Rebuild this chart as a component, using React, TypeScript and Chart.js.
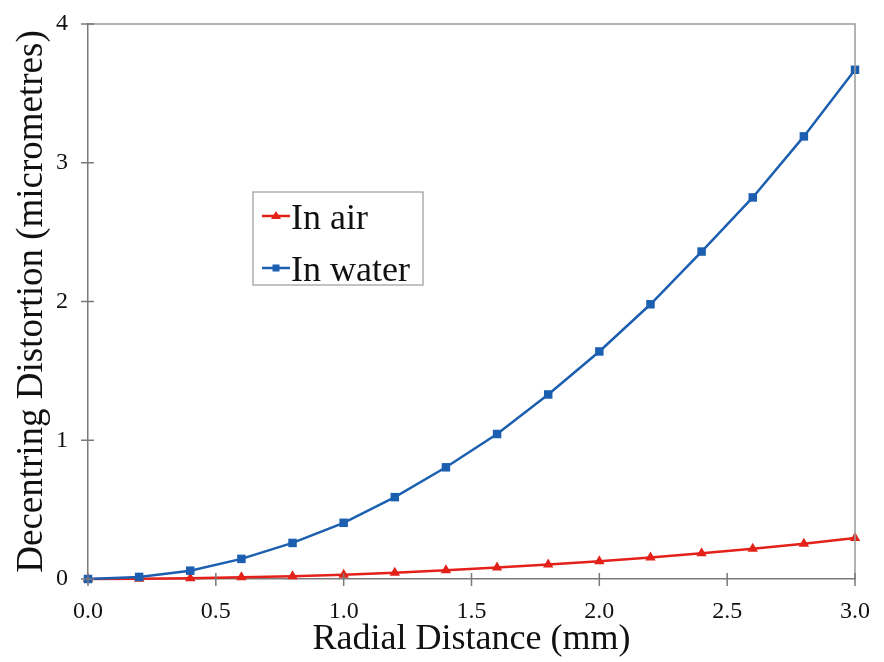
import React, { useEffect, useRef } from "react";
import { Chart, registerables } from "chart.js";

Chart.register(...registerables);

const radialDistance = [0, 0.2, 0.4, 0.6, 0.8, 1.0, 1.2, 1.4, 1.6, 1.8, 2.0, 2.2, 2.4, 2.6, 2.8, 3.0];
const inAir = [0, 0.002, 0.006, 0.012, 0.02, 0.03, 0.045, 0.063, 0.082, 0.104, 0.128, 0.155, 0.185, 0.218, 0.254, 0.295];
const inWater = [0, 0.015, 0.06, 0.145, 0.26, 0.405, 0.59, 0.805, 1.045, 1.33, 1.64, 1.98, 2.36, 2.75, 3.19, 3.67];
const seriesNames = ["In air", "In water"];
const xTicks = [0, 0.5, 1.0, 1.5, 2.0, 2.5, 3.0];
const yTicks = [0, 1, 2, 3, 4];
const xTitle = "Radial Distance (mm)";
const yTitle = "Decentring Distortion (micrometres)";

const RED = "#e32119";
const BLUE = "#1c5fb0";
const SERIF = "'Liberation Serif', 'Times New Roman', serif";

const framePlugin = {
  id: "frameAndTicks",
  afterDraw(chart: any) {
    const { ctx, chartArea } = chart;
    const xs = chart.scales.x;
    const ys = chart.scales.y;
    ctx.save();
    ctx.strokeStyle = "#9a9a9a";
    ctx.lineWidth = 1.5;
    ctx.beginPath();
    ctx.moveTo(chartArea.left, chartArea.top);
    ctx.lineTo(chartArea.right, chartArea.top);
    ctx.lineTo(chartArea.right, chartArea.bottom);
    ctx.stroke();
    ctx.strokeStyle = "#7a7a7a";
    ctx.lineWidth = 1.5;
    ctx.beginPath();
    xTicks.forEach((v) => {
      const px = xs.getPixelForValue(v);
      ctx.moveTo(px, chartArea.bottom - 6);
      ctx.lineTo(px, chartArea.bottom + 7);
    });
    yTicks.forEach((v) => {
      const py = ys.getPixelForValue(v);
      ctx.moveTo(chartArea.left - 7, py);
      ctx.lineTo(chartArea.left + 6, py);
    });
    ctx.stroke();

    const bx = 253, by = 192, bw = 170, bh = 93;
    ctx.fillStyle = "#ffffff";
    ctx.fillRect(bx, by, bw, bh);
    ctx.strokeStyle = "#9a9a9a";
    ctx.lineWidth = 1.2;
    ctx.strokeRect(bx, by, bw, bh);
    const rows = [
      { name: seriesNames[0], color: RED, style: "triangle", y: 216 },
      { name: seriesNames[1], color: BLUE, style: "rect", y: 268 },
    ];
    rows.forEach((r) => {
      ctx.strokeStyle = r.color;
      ctx.lineWidth = 2.5;
      ctx.beginPath();
      ctx.moveTo(262, r.y);
      ctx.lineTo(290, r.y);
      ctx.stroke();
      ctx.fillStyle = r.color;
      ctx.beginPath();
      if (r.style === "triangle") {
        ctx.moveTo(276, r.y - 5);
        ctx.lineTo(281, r.y + 3);
        ctx.lineTo(271, r.y + 3);
        ctx.closePath();
      } else {
        ctx.rect(272.5, r.y - 3.5, 7, 7);
      }
      ctx.fill();
      ctx.fillStyle = "#111";
      ctx.font = `36px ${SERIF}`;
      ctx.textBaseline = "alphabetic";
      ctx.textAlign = "left";
      ctx.fillText(r.name, 291, r.y + 13);
    });
    ctx.restore();
  },
};

export default function App() {
  const ref = useRef<HTMLCanvasElement | null>(null);
  useEffect(() => {
    if (!ref.current) return;
    const chart = new Chart(ref.current, {
      type: "line",
      data: {
        labels: radialDistance,
        datasets: [
          {
            label: seriesNames[1],
            data: radialDistance.map((x, i) => ({ x, y: inWater[i] })),
            borderColor: BLUE,
            backgroundColor: BLUE,
            borderWidth: 2.5,
            pointStyle: "rect",
            pointRadius: 6,
            pointBorderWidth: 0,
            tension: 0,
            clip: false,
          },
          {
            label: seriesNames[0],
            data: radialDistance.map((x, i) => ({ x, y: inAir[i] })),
            borderColor: RED,
            backgroundColor: RED,
            borderWidth: 2.5,
            pointStyle: "triangle",
            pointRadius: 6,
            pointBorderWidth: 0,
            tension: 0,
            clip: false,
          },
        ],
      },
      options: {
        animation: false,
        responsive: false,
        maintainAspectRatio: false,
        layout: { padding: { top: 24, right: 29, left: 0, bottom: 0 } },
        plugins: { legend: { display: false }, tooltip: { enabled: false } },
        scales: {
          x: {
            type: "linear",
            min: 0,
            max: 3,
            afterFit: (s: any) => {
              s.height = 83;
              s.paddingLeft = 0;
              s.paddingRight = 0;
            },
            afterBuildTicks: (s: any) => {
              s.ticks = xTicks.map((v) => ({ value: v }));
            },
            grid: { display: false, drawTicks: false },
            border: { display: true, color: "#7a7a7a", width: 1.5 },
            ticks: {
              padding: 18,
              color: "#111",
              font: { family: SERIF, size: 24 },
              callback: (v: any) => Number(v).toFixed(1),
            },
            title: {
              display: true,
              text: xTitle,
              color: "#111",
              font: { family: SERIF, size: 36 },
              padding: { top: 0, bottom: 1 },
            },
          },
          y: {
            type: "linear",
            min: 0,
            max: 4,
            afterFit: (s: any) => {
              s.width = 88;
              s.paddingTop = 0;
              s.paddingBottom = 0;
            },
            afterBuildTicks: (s: any) => {
              s.ticks = yTicks.map((v) => ({ value: v }));
            },
            grid: { display: false, drawTicks: false },
            border: { display: true, color: "#7a7a7a", width: 1.5 },
            ticks: {
              padding: 20,
              color: "#111",
              font: { family: SERIF, size: 24 },
              callback: (v: any) => String(v),
            },
            title: {
              display: true,
              text: yTitle,
              color: "#111",
              font: { family: SERIF, size: 37 },
              padding: { top: 10, bottom: 0 },
            },
          },
        },
      },
      plugins: [framePlugin],
    });
    return () => chart.destroy();
  }, []);
  return (
    <div style={{ position: "absolute", left: 0, top: 0, width: 884, height: 662, background: "#fff" }}>
      <canvas ref={ref} width={884} height={662} style={{ width: 884, height: 662 }} />
    </div>
  );
}
